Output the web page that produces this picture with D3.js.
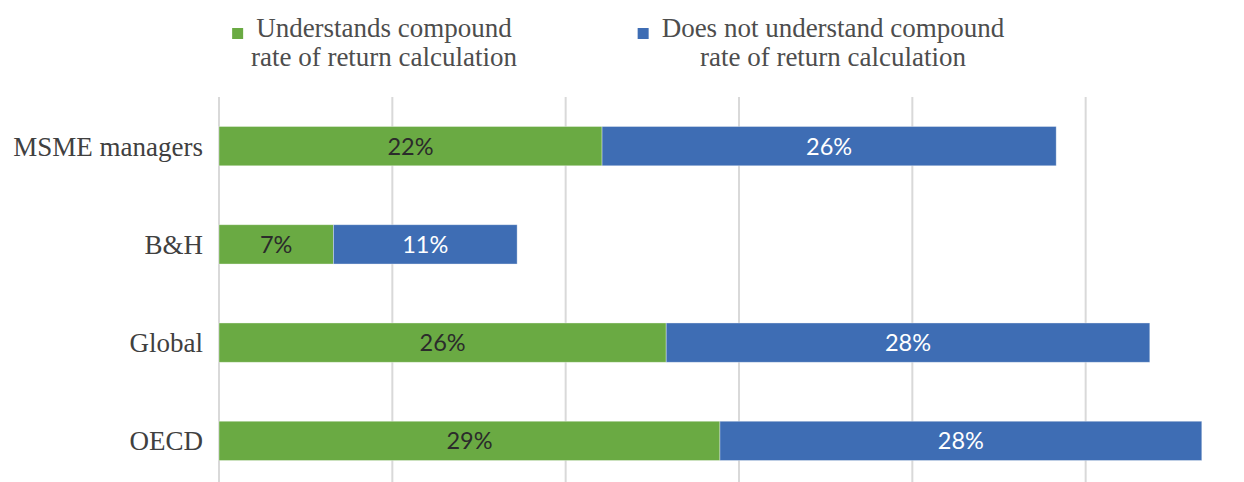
<!DOCTYPE html>
<html>
<head>
<meta charset="utf-8">
<script src="https://cdn.jsdelivr.net/npm/d3@7"></script>
<style>
  html, body { margin: 0; padding: 0; background: #fff; }
  svg { display: block; }
</style>
</head>
<body>
<svg id="chart" width="1244" height="482"></svg>
<script>
// Share of respondents by understanding of compound rate of return (%)
const categories = ["MSME managers", "B&H", "Global", "OECD"];
const understands = [22.1, 6.6, 25.8, 28.9];
const doesNotUnderstand = [26.2, 10.6, 27.9, 27.8];
const seriesNames = [
  ["Understands compound", "rate of return calculation"],
  ["Does not understand compound", "rate of return calculation"]
];
const xTicks = [0, 10, 20, 30, 40, 50, 60];

const colors = ["#6aaa43", "#3e6db4"];
const labelColors = ["#2b2b2b", "#ffffff"];

const svg = d3.select("#chart");

const x = d3.scaleLinear().domain([0, 60]).range([219, 1259]);
const y = d3.scaleBand().domain(categories).range([97, 490])
  .paddingInner(0.6).paddingOuter(0.3);

// vertical gridlines
svg.append("g")
  .selectAll("line")
  .data(xTicks)
  .join("line")
  .attr("x1", d => x(d)).attr("x2", d => x(d))
  .attr("y1", 97).attr("y2", 482)
  .attr("stroke", "#d9d9d9")
  .attr("stroke-width", 2);

// stacked data
const rows = categories.map((c, i) => ({ cat: c, a: understands[i], b: doesNotUnderstand[i] }));
const stack = d3.stack().keys(["a", "b"])(rows);

const layers = svg.append("g")
  .selectAll("g")
  .data(stack)
  .join("g");

layers.selectAll("rect")
  .data((s, si) => s.map(d => ({ d, si })))
  .join("rect")
  .attr("x", o => x(o.d[0]))
  .attr("width", o => x(o.d[1]) - x(o.d[0]))
  .attr("y", o => y(o.d.data.cat))
  .attr("height", y.bandwidth())
  .attr("fill", o => colors[o.si])
  .attr("stroke", "#ffffff")
  .attr("stroke-opacity", 0.45)
  .attr("stroke-width", 0.8);

layers.selectAll("text")
  .data((s, si) => s.map(d => ({ d, si })))
  .join("text")
  .attr("x", o => (x(o.d[0]) + x(o.d[1])) / 2)
  .attr("y", o => y(o.d.data.cat) + y.bandwidth() / 2)
  .attr("dy", "0.36em")
  .attr("text-anchor", "middle")
  .attr("font-family", "Lato, 'Open Sans', sans-serif")
  .attr("font-size", 23.5)
  .attr("fill", o => labelColors[o.si])
  .text(o => Math.round(o.d[1] - o.d[0]) + "%");

// category axis
const yAxis = svg.append("g")
  .attr("transform", "translate(203,0)")
  .call(d3.axisLeft(y).tickSize(0).tickPadding(0));
yAxis.select(".domain").remove();
yAxis.selectAll("text")
  .attr("font-family", "'Liberation Serif', 'Times New Roman', serif")
  .attr("font-size", 27)
  .attr("fill", "#404040")
  .attr("dy", "0.35em");

// legend
const legendCenters = [384, 833];
const legend = svg.append("g")
  .selectAll("g")
  .data(seriesNames)
  .join("g");

legend.each(function(lines, i) {
  const g = d3.select(this);
  const t = g.append("text")
    .attr("font-family", "'Liberation Serif', 'Times New Roman', serif")
    .attr("font-size", 27)
    .attr("fill", "#4d4d4d")
    .attr("text-anchor", "middle");
  lines.forEach((ln, k) => {
    t.append("tspan")
      .attr("x", legendCenters[i])
      .attr("y", 37 + k * 29)
      .text(ln);
  });
  const w = t.select("tspan").node().getComputedTextLength();
  const left = legendCenters[i] - w / 2;
  g.append("rect")
    .attr("x", left - 24)
    .attr("y", 28)
    .attr("width", 11)
    .attr("height", 11)
    .attr("fill", colors[i]);
});
</script>
</body>
</html>
